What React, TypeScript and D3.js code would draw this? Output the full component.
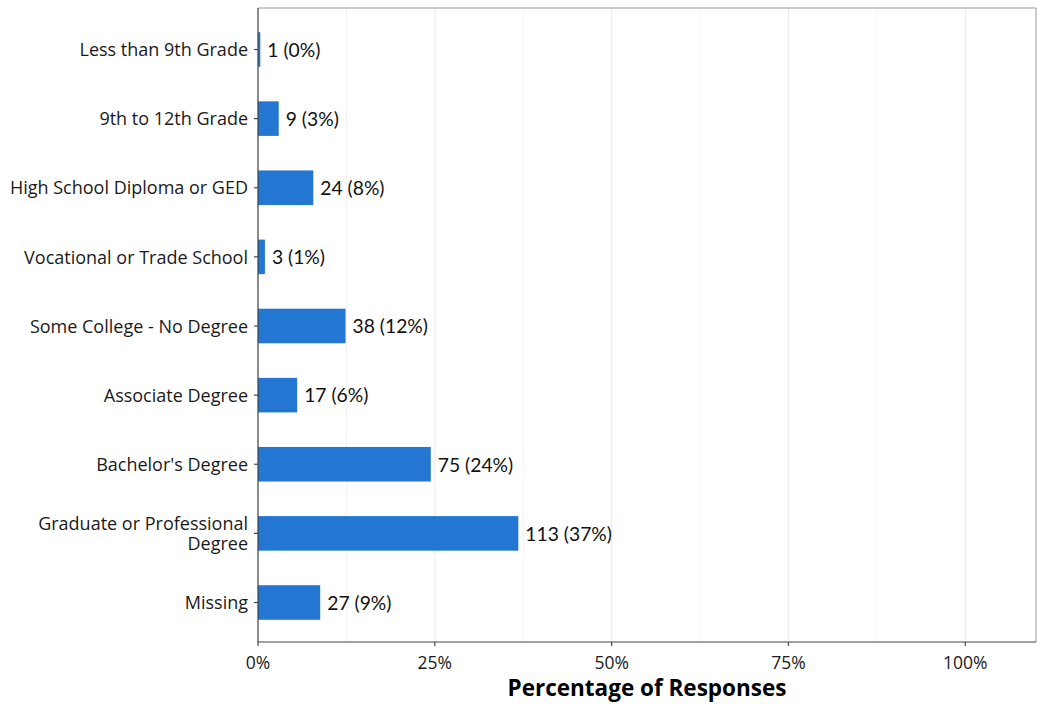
import React from "react";
import * as d3 from "d3";

const categories = [
  "Less than 9th Grade",
  "9th to 12th Grade",
  "High School Diploma or GED",
  "Vocational or Trade School",
  "Some College - No Degree",
  "Associate Degree",
  "Bachelor's Degree",
  "Graduate or Professional Degree",
  "Missing",
];
const counts = [1, 9, 24, 3, 38, 17, 75, 113, 27];
const xTicks = [0, 0.25, 0.5, 0.75, 1.0];
const xMinor = [0.125, 0.375, 0.625, 0.875];

const W = 1037, H = 704;
const left = 258, right = 1036, top = 8, bottom = 642;

export default function App() {
  const total = d3.sum(counts);
  const x = d3.scaleLinear().domain([0, 1.1]).range([left, right]);
  const y = d3.scalePoint<string>().domain(categories).range([49.5, 602.5]);
  const step = y.step();
  const barH = step * 0.5;
  const font = "'Open Sans', sans-serif";

  const wrap = (s: string) => (s === "Graduate or Professional Degree" ? ["Graduate or Professional", "Degree"] : [s]);

  return (
    <svg width={W} height={H} style={{ position: "absolute", left: 0, top: 0, background: "#fff" }}>
      <rect x={left} y={top} width={right - left} height={bottom - top} fill="#fff" />
      {xMinor.map((t) => (
        <line key={"m" + t} x1={x(t)} x2={x(t)} y1={top} y2={bottom} stroke="#f3f3f3" strokeWidth={1} />
      ))}
      {xTicks.map((t) => (
        <line key={"g" + t} x1={x(t)} x2={x(t)} y1={top} y2={bottom} stroke="#ebebeb" strokeWidth={1.1} />
      ))}
      {categories.map((cat, i) => {
        const c = counts[i];
        const p = c / total;
        const cy = y(cat)!;
        return (
          <g key={cat}>
            <rect x={x(0)} y={cy - barH / 2} width={x(p) - x(0)} height={barH} fill="#2376d1" />
            <text x={x(p) + 7} y={cy} dy="0.38em" fontFamily="Lato, sans-serif" fontSize={19.3} fill="#111">
              {`${c} (${Math.round(p * 100)}%)`}
            </text>
          </g>
        );
      })}
      <line x1={left} x2={right} y1={top} y2={top} stroke="#999" strokeWidth={1} />
      <line x1={right} x2={right} y1={top} y2={bottom} stroke="#999" strokeWidth={1} />
      <line x1={left} x2={left} y1={top} y2={bottom} stroke="#444" strokeWidth={1.2} />
      <line x1={left} x2={right} y1={bottom} y2={bottom} stroke="#444" strokeWidth={1.2} />
      {categories.map((c) => {
        const lines = wrap(c);
        const lh = 20.5;
        const cy = y(c)!;
        return (
          <g key={c}>
            <line x1={left - 4} x2={left} y1={cy} y2={cy} stroke="#444" strokeWidth={1.2} />
            <text textAnchor="end" fontFamily={font} fontSize={18} fill="#1a1a1a">
              {lines.map((l, j) => (
                <tspan key={j} x={left - 10} y={cy + (j - (lines.length - 1) / 2) * lh} dy="0.37em">
                  {l}
                </tspan>
              ))}
            </text>
          </g>
        );
      })}
      {xTicks.map((t) => (
        <g key={"t" + t}>
          <line x1={x(t)} x2={x(t)} y1={bottom} y2={bottom + 4} stroke="#444" strokeWidth={1.2} />
          <text x={x(t)} y={bottom + 21} dy="0.35em" textAnchor="middle" fontFamily={font} fontSize={17.5} fill="#1a1a1a">
            {d3.format(".0%")(t)}
          </text>
        </g>
      ))}
      <text x={(left + right) / 2} y={688} dy="0.35em" textAnchor="middle" fontFamily={font} fontWeight="bold" fontSize={22.5} fill="#000">
        Percentage of Responses
      </text>
    </svg>
  );
}
